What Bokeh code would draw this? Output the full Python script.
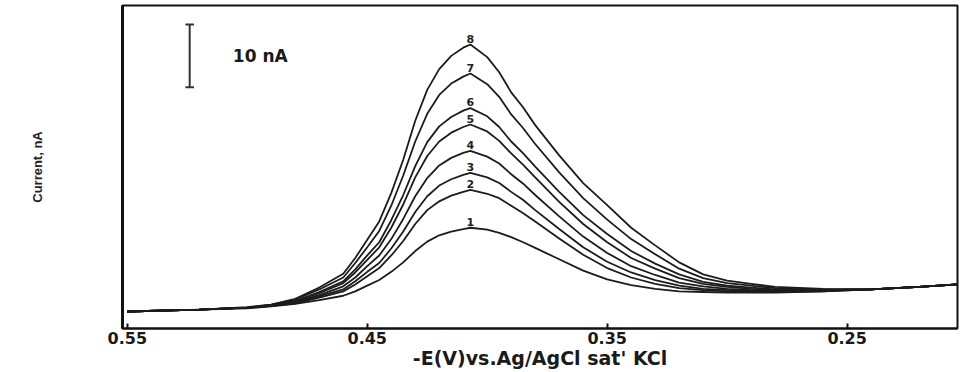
from bokeh.plotting import figure
from bokeh.models import Range1d, FixedTicker, ColumnDataSource
from bokeh.core.properties import value
from bokeh.embed import file_html
from bokeh.resources import INLINE

# ---- data (potential in V, current in nA) ----
potential_V = [0.55, 0.52, 0.50, 0.49, 0.48, 0.47, 0.46, 0.455, 0.45, 0.445, 0.44, 0.435,
               0.43, 0.425, 0.42, 0.415, 0.41, 0.407, 0.40, 0.395, 0.39, 0.385, 0.38, 0.37,
               0.36, 0.35, 0.34, 0.33, 0.32, 0.31, 0.30, 0.29, 0.28, 0.26, 0.24, 0.22, 0.204]

curve_1 = [2.7, 3.0, 3.2, 3.5, 3.9, 4.5, 5.2, 5.9, 6.8, 7.7, 9.0, 10.5, 12.3, 13.8, 14.8, 15.4,
           15.8, 16.0, 15.7, 15.2, 14.5, 13.7, 12.8, 11.0, 9.2, 7.8, 6.9, 6.3, 5.9, 5.8, 5.7,
           5.7, 5.7, 5.9, 6.2, 6.6, 7.0]
curve_2 = [2.7, 3.0, 3.3, 3.6, 4.0, 4.9, 5.9, 7.0, 8.3, 9.6, 11.6, 13.9, 16.6, 18.8, 20.2, 21.1,
           21.7, 22.0, 21.4, 20.7, 19.5, 18.3, 17.0, 14.3, 11.7, 9.6, 8.1, 7.1, 6.4, 6.1, 5.9,
           5.8, 5.8, 5.9, 6.2, 6.6, 7.0]
curve_3 = [2.7, 3.0, 3.3, 3.6, 4.1, 5.1, 6.2, 7.5, 9.0, 10.4, 12.7, 15.4, 18.5, 21.0, 22.7, 23.7,
           24.4, 24.7, 24.0, 23.1, 21.7, 20.4, 18.8, 15.8, 12.9, 10.6, 8.9, 7.7, 6.8, 6.3, 6.1,
           6.0, 5.9, 6.0, 6.2, 6.6, 7.0]
curve_4 = [2.7, 3.0, 3.3, 3.6, 4.2, 5.3, 6.7, 8.1, 9.9, 11.6, 14.2, 17.4, 21.0, 23.9, 25.9, 27.1,
           27.9, 28.2, 27.3, 26.2, 24.5, 23.0, 21.2, 17.8, 14.6, 12.0, 9.9, 8.5, 7.3, 6.7, 6.3,
           6.1, 6.0, 6.0, 6.2, 6.6, 7.0]
curve_5 = [2.7, 3.0, 3.3, 3.7, 4.3, 5.6, 7.2, 8.9, 10.9, 12.9, 16.0, 19.7, 24.0, 27.4, 29.7, 31.1,
           32.0, 32.4, 31.3, 29.8, 27.8, 26.0, 24.0, 20.1, 16.6, 13.7, 11.2, 9.5, 8.0, 7.1, 6.6,
           6.3, 6.1, 6.1, 6.2, 6.6, 7.0]
curve_6 = [2.7, 3.0, 3.3, 3.7, 4.4, 5.8, 7.5, 9.4, 11.6, 13.7, 17.2, 21.2, 25.8, 29.6, 32.1, 33.6,
           34.6, 35.0, 33.7, 32.0, 29.7, 27.8, 25.7, 21.7, 18.0, 15.0, 12.3, 10.3, 8.6, 7.4, 6.8,
           6.5, 6.2, 6.1, 6.2, 6.6, 7.0]
curve_7 = [2.7, 3.0, 3.3, 3.8, 4.6, 6.2, 8.1, 10.4, 12.9, 15.5, 19.5, 24.3, 29.7, 34.1, 37.1, 38.9,
           40.0, 40.5, 38.8, 36.8, 34.0, 31.8, 29.3, 24.8, 20.7, 17.3, 14.2, 11.8, 9.5, 8.0, 7.2,
           6.8, 6.4, 6.2, 6.2, 6.6, 7.0]
curve_8 = [2.7, 3.0, 3.4, 3.8, 4.7, 6.5, 8.7, 11.2, 14.1, 17.0, 21.5, 26.8, 33.0, 37.9, 41.2, 43.3,
           44.6, 45.1, 43.1, 40.7, 37.5, 35.1, 32.3, 27.5, 23.1, 19.6, 16.0, 13.2, 10.5, 8.6, 7.6,
           7.1, 6.6, 6.3, 6.2, 6.6, 7.0]

curves = [curve_1, curve_2, curve_3, curve_4, curve_5, curve_6, curve_7, curve_8]
curve_labels = ["1", "2", "3", "4", "5", "6", "7", "8"]
peak_potential_V = 0.407

tick_values = [0.55, 0.45, 0.35, 0.25]
tick_labels = ["0.55", "0.45", "0.35", "0.25"]

x_title = "-E(V)vs.Ag/AgCl sat' KCl"
y_title = "Current, nA"

# scale bar (10 nA)
scale_bar_text = "10 nA"
scale_bar_nA = 10.0
scale_bar_x = 0.524
scale_bar_bottom = 38.3
scale_bar_cap = 0.0018
scale_text_x = 0.506

# ---- figure ----
p = figure(width=960, height=372, output_backend="svg", toolbar_location=None,
           x_range=Range1d(0.552, 0.204), y_range=Range1d(0, 51.3),
           min_border_left=122, min_border_right=3, min_border_top=5, min_border_bottom=44)
p.background_fill_color = "white"
p.border_fill_color = "white"
p.outline_line_color = "#111111"
p.outline_line_width = 2
p.xgrid.visible = False
p.ygrid.visible = False

line_color = "#1c1c1c"
for c in curves:
    p.line(potential_V, c, line_color=line_color, line_width=1.8)

# curve numbers above each peak
label_src = ColumnDataSource(dict(x=[peak_potential_V] * len(curves),
                                  y=[max(c) for c in curves],
                                  t=curve_labels))
p.text(x="x", y="y", text="t", source=label_src, text_align="center",
       text_baseline="bottom", y_offset=-2, text_font=value("DejaVu Sans"),
       text_font_style="bold", text_font_size="11px", text_color="#222222")

# scale bar
top = scale_bar_bottom + scale_bar_nA
p.segment(x0=[scale_bar_x, scale_bar_x - scale_bar_cap, scale_bar_x - scale_bar_cap],
          y0=[scale_bar_bottom, scale_bar_bottom, top],
          x1=[scale_bar_x, scale_bar_x + scale_bar_cap, scale_bar_x + scale_bar_cap],
          y1=[top, scale_bar_bottom, top],
          line_color="#333333", line_width=2)
p.text(x=[scale_text_x], y=[scale_bar_bottom + scale_bar_nA / 2], text=[scale_bar_text],
       text_align="left", text_baseline="middle", text_font=value("DejaVu Sans"),
       text_font_style="bold", text_font_size="17px", text_color="#1a1a1a")

# x axis
xa = p.xaxis[0]
xa.ticker = FixedTicker(ticks=tick_values)
xa.major_label_overrides = dict(zip(tick_values, tick_labels))
xa.major_tick_in = 5
xa.major_tick_out = 0
xa.major_tick_line_width = 2
xa.major_tick_line_color = "#111111"
xa.minor_tick_line_color = None
xa.axis_line_color = "#111111"
xa.axis_line_width = 2
xa.major_label_standoff = 3
xa.major_label_text_font = "DejaVu Sans"
xa.major_label_text_font_style = "bold"
xa.major_label_text_font_size = "16px"
xa.major_label_text_color = "#1a1a1a"
xa.axis_label = x_title
xa.axis_label_standoff = 0
xa.axis_label_text_font = "DejaVu Sans"
xa.axis_label_text_font_style = "bold"
xa.axis_label_text_font_size = "19px"
xa.axis_label_text_color = "#1a1a1a"

# y axis (no ticks)
ya = p.yaxis[0]
ya.ticker = FixedTicker(ticks=[])
ya.major_label_text_font_size = "0px"
ya.major_tick_in = 0
ya.major_tick_out = 0
ya.minor_tick_line_color = None
ya.axis_line_color = "#111111"
ya.axis_line_width = 3
ya.axis_label = y_title
ya.axis_label_standoff = 78
ya.axis_label_text_font = "Liberation Sans"
ya.axis_label_text_font_style = "bold"
ya.axis_label_text_font_size = "13px"
ya.axis_label_text_color = "#222222"

open("out.html", "w").write(file_html(p, INLINE))
